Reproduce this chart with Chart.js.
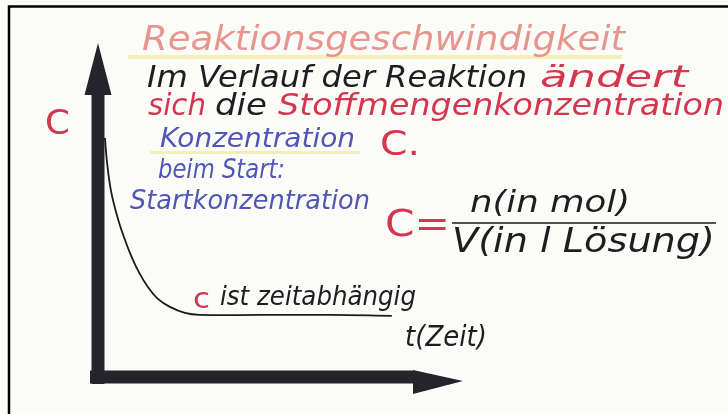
<!DOCTYPE html>
<html>
<head>
<meta charset="utf-8">
<script src="https://cdn.jsdelivr.net/npm/chart.js@4/dist/chart.umd.min.js"></script>
<style>
  html, body { margin: 0; padding: 0; background: #fbfcf8; }
  #wrap { width: 728px; height: 414px; }
</style>
</head>
<body>
<div id="wrap"><canvas id="board"></canvas></div>
<script>
// time (t) and concentration (c)
const zeit = [0.19, 0.25, 0.36, 0.53, 0.71, 0.9, 1.12, 1.37, 1.64, 1.97, 2.38, 2.79, 4.44, 6.36, 8.05];
const konz = [7.16, 6.4, 5.55, 4.8, 4.19, 3.65, 3.14, 2.69, 2.34, 2.1, 1.92, 1.86, 1.86, 1.86, 1.83];
const tMax = 10;
const cMax = 10;

const red = "#d4354f";
const blue = "#5156b6";
const ink = "#1d1d22";
const font = "'DejaVu Sans'";

// text pieces on the board: [text, x, baseline, width, size, colour, italic]
const notes = [
  ["Reaktionsgeschwindigkeit", 142, 50, 483, 34, "#e6968f", true],
  ["Im Verlauf der Reaktion", 147, 87, 380, 31, ink, true],
  ["ändert", 540, 87, 148, 31, red, true],
  ["sich", 148, 115, 58, 31, red, true],
  ["die", 215, 115, 52, 31, ink, true],
  ["Stoffmengenkonzentration", 278, 115, 446, 31, red, true],
  ["C", 45, 134, 25, 33, red, false],
  ["Konzentration", 160, 147, 195, 27, blue, true],
  ["C.", 380, 155, 40, 33, red, false],
  ["beim Start:", 158, 178, 127, 27, blue, true],
  ["Startkonzentration", 130, 209, 240, 27, blue, true],
  ["C=", 385, 236, 65, 37, red, false],
  ["n(in mol)", 470, 212, 160, 31, ink, true],
  ["V(in l Lösung)", 452, 252, 263, 33, ink, true],
  ["c", 193, 308, 17, 29, red, false],
  ["ist zeitabhängig", 220, 305, 196, 27, ink, true],
  ["t(Zeit)", 405, 346, 82, 29, ink, true]
];

function fitText(ctx, n) {
  const [txt, x, y, w, size, col, it] = n;
  ctx.save();
  ctx.font = (it ? "italic " : "") + size + "px " + font;
  ctx.fillStyle = col;
  ctx.textBaseline = "alphabetic";
  const m = ctx.measureText(txt).width;
  ctx.translate(x, y);
  ctx.scale(w / m, 1);
  ctx.fillText(txt, 0, 0);
  ctx.restore();
}

const boardPlugin = {
  id: "board",
  beforeDatasetsDraw(chart) {
    const ctx = chart.ctx;
    const xs = chart.scales.x, ys = chart.scales.y;
    const x0 = xs.getPixelForValue(0), y0 = ys.getPixelForValue(0);
    const yTop = ys.getPixelForValue(cMax), xEnd = xs.getPixelForValue(tMax);
    ctx.save();

    // frame lines of the picture
    ctx.strokeStyle = "#000";
    ctx.lineWidth = 2.5;
    ctx.beginPath();
    ctx.moveTo(9, 414);
    ctx.lineTo(9, 6.5);
    ctx.lineTo(728, 6.5);
    ctx.stroke();

    // yellow highlighter
    ctx.fillStyle = "rgba(238, 228, 120, 0.55)";
    ctx.fillRect(128, 55, 494, 4);
    ctx.fillRect(150, 151, 210, 3);

    // axes
    ctx.fillStyle = "#25242d";
    ctx.fillRect(x0 - 6.5, yTop + 52, 13, y0 - yTop - 45);
    ctx.beginPath();
    ctx.moveTo(x0, yTop);
    ctx.lineTo(x0 - 13.5, yTop + 52);
    ctx.lineTo(x0 + 13.5, yTop + 52);
    ctx.closePath();
    ctx.fill();
    ctx.fillRect(x0 - 8, y0 - 6.5, xEnd - x0 - 42, 13);
    ctx.beginPath();
    ctx.moveTo(xEnd, y0 + 4);
    ctx.lineTo(xEnd - 50, y0 - 7);
    ctx.lineTo(xEnd - 50, y0 + 17);
    ctx.closePath();
    ctx.fill();

    // fraction bar
    ctx.strokeStyle = ink;
    ctx.lineWidth = 1.5;
    ctx.beginPath();
    ctx.moveTo(452, 223);
    ctx.lineTo(716, 223);
    ctx.stroke();

    notes.forEach((n) => fitText(ctx, n));
    ctx.restore();
  }
};

new Chart(document.getElementById("board"), {
  type: "line",
  data: {
    labels: zeit,
    datasets: [
      {
        label: "c",
        data: zeit.map((t, i) => ({ x: t, y: konz[i] })),
        borderColor: "#1b1b1b",
        borderWidth: 1.8,
        pointRadius: 0,
        tension: 0.4,
        fill: false
      }
    ]
  },
  options: {
    responsive: true,
    maintainAspectRatio: false,
    animation: false,
    layout: { padding: { left: 98, right: 265, top: 43, bottom: 37 } },
    plugins: { legend: { display: false }, tooltip: { enabled: false } },
    scales: {
      x: { type: "linear", min: 0, max: tMax, display: false },
      y: { min: 0, max: cMax, display: false }
    }
  },
  plugins: [boardPlugin]
});
</script>
</body>
</html>
